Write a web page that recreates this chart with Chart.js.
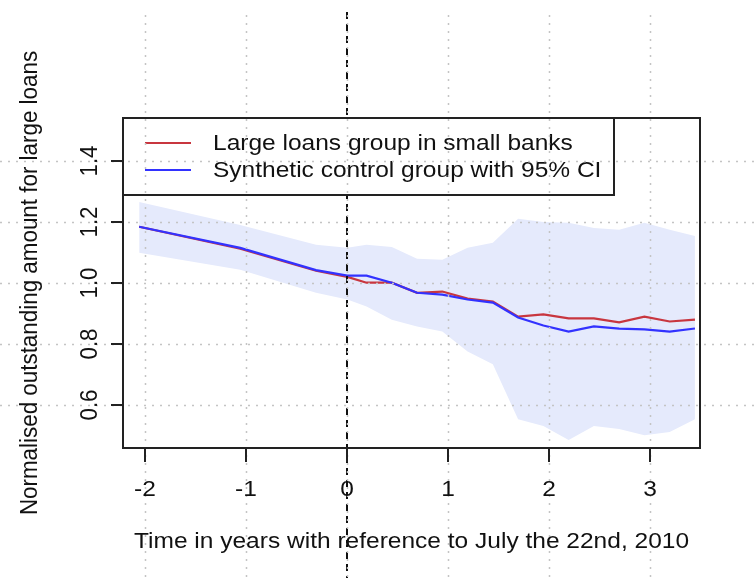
<!DOCTYPE html>
<html>
<head>
<meta charset="utf-8">
<script src="https://cdn.jsdelivr.net/npm/chart.js@4"></script>
<style>
  html, body { margin: 0; padding: 0; background: #fff; }
  canvas { display: block; }
</style>
</head>
<body>
<canvas id="loanChart" width="755" height="578"></canvas>
<script>
// time in years relative to 22 July 2010 (quarter ends)
const years = [-2.06, -1.06, -0.31, 0, 0.19, 0.44, 0.69, 0.94, 1.19, 1.44, 1.69, 1.94, 2.19, 2.44, 2.69, 2.94, 3.19, 3.44];

// large loans group in small banks
const treated = [1.184, 1.112, 1.040, 1.020, 1.001, 1.001, 0.968, 0.972, 0.949, 0.939, 0.890, 0.897, 0.884, 0.884, 0.871, 0.890, 0.874, 0.880];
// synthetic control
const synthetic = [1.184, 1.115, 1.042, 1.024, 1.024, 1.001, 0.968, 0.962, 0.946, 0.936, 0.887, 0.861, 0.841, 0.858, 0.851, 0.848, 0.841, 0.851];
// 95% CI
const ciUpper = [1.265, 1.190, 1.125, 1.115, 1.125, 1.118, 1.079, 1.076, 1.115, 1.132, 1.210, 1.200, 1.197, 1.180, 1.174, 1.197, 1.174, 1.154];
const ciLower = [1.099, 1.043, 0.968, 0.946, 0.923, 0.880, 0.858, 0.841, 0.776, 0.734, 0.554, 0.532, 0.486, 0.532, 0.522, 0.502, 0.512, 0.554];

const xTicks = [-2, -1, 0, 1, 2, 3];
const yTicks = [0.6, 0.8, 1.0, 1.2, 1.4];
const yTickLabels = ['0.6', '0.8', '1.0', '1.2', '1.4'];

const seriesNames = ['Large loans group in small banks', 'Synthetic control group with 95% CI'];
const redCol = '#c8363f';
const blueCol = '#3232ff';
const bandCol = '#e5eafc';
const font = '22.4px "Liberation Sans", Arial, sans-serif';
const stretch = 1.095; // the original figure is a bit wider than tall

const pts = ys => years.map((x, i) => ({ x: x, y: ys[i] }));

// text helper, horizontally stretched like the source picture
function txt(c, s, x, y, rot) {
  c.save();
  c.translate(x, y);
  c.scale(stretch, 1);
  if (rot) c.rotate(-Math.PI / 2);
  c.fillText(s, 0, 0);
  c.restore();
}

// R-style decorations: box, ticks, dotted grid, v-line, legend
const rDecor = {
  id: 'rDecor',
  afterDatasetsDraw(chart) {
    const c = chart.ctx, a = chart.chartArea;
    const sx = chart.scales.x, sy = chart.scales.y;
    c.save();

    // abline(v = 0)
    const x0 = Math.round(sx.getPixelForValue(0));
    c.strokeStyle = '#111';
    c.lineWidth = 2;
    c.setLineDash([7, 5]);
    c.beginPath();
    c.moveTo(x0, 12);
    c.lineTo(x0, chart.height);
    c.stroke();
    c.setLineDash([]);

    // legend
    const lx = a.left, ly = a.top, lw = 491, lh = 77;
    c.fillStyle = '#fff';
    c.fillRect(lx, ly, lw, lh);
    c.strokeStyle = '#222';
    c.lineWidth = 2;
    c.strokeRect(lx, ly, lw, lh);
    c.font = font;
    c.textBaseline = 'middle';
    c.textAlign = 'left';
    [redCol, blueCol].forEach((col, i) => {
      const yy = ly + 25 + i * 27;
      c.strokeStyle = col;
      c.lineWidth = 2;
      c.beginPath();
      c.moveTo(lx + 22, yy);
      c.lineTo(lx + 68, yy);
      c.stroke();
      c.fillStyle = '#111';
      txt(c, seriesNames[i], lx + 90, yy + 1);
    });

    // grid(), drawn across the whole figure
    c.strokeStyle = '#c4c4c4';
    c.lineWidth = 1.5;
    c.setLineDash([2, 6]);
    xTicks.forEach(v => {
      const px = Math.round(sx.getPixelForValue(v)) + 0.5;
      c.beginPath();
      c.moveTo(px, 15);
      c.lineTo(px, chart.height);
      c.stroke();
    });
    yTicks.forEach(v => {
      const py = Math.round(sy.getPixelForValue(v)) + 0.5;
      c.beginPath();
      c.moveTo(0, py);
      c.lineTo(chart.width, py);
      c.stroke();
    });
    c.setLineDash([]);

    // box
    c.strokeStyle = '#222';
    c.lineWidth = 2;
    c.strokeRect(a.left, a.top, a.right - a.left, a.bottom - a.top);

    // x axis
    c.fillStyle = '#111';
    c.textAlign = 'center';
    c.textBaseline = 'middle';
    xTicks.forEach(v => {
      const px = Math.round(sx.getPixelForValue(v));
      c.beginPath();
      c.moveTo(px, a.bottom);
      c.lineTo(px, a.bottom + 14);
      c.stroke();
      txt(c, v < 0 ? '-' + Math.abs(v) : String(v), px, a.bottom + 42);
    });
    txt(c, 'Time in years with reference to July the 22nd, 2010', (a.left + a.right) / 2, 542);

    // y axis
    yTicks.forEach((v, i) => {
      const py = Math.round(sy.getPixelForValue(v));
      c.beginPath();
      c.moveTo(a.left, py);
      c.lineTo(a.left - 12, py);
      c.stroke();
      txt(c, yTickLabels[i], 90, py, true);
    });
    txt(c, 'Normalised outstanding amount for large loans', 30, (a.top + a.bottom) / 2, true);

    c.restore();
  }
};

new Chart(document.getElementById('loanChart'), {
  type: 'line',
  data: {
    datasets: [
      // higher order = drawn earlier, so the band sits underneath
      { label: 'CI upper', data: pts(ciUpper), borderWidth: 0, pointRadius: 0, fill: '+1', backgroundColor: bandCol, order: 3 },
      { label: 'CI lower', data: pts(ciLower), borderWidth: 0, pointRadius: 0, fill: false, order: 3 },
      { label: seriesNames[0], data: pts(treated), borderColor: redCol, borderWidth: 2.2, pointRadius: 0, fill: false, tension: 0, order: 2 },
      { label: seriesNames[1], data: pts(synthetic), borderColor: blueCol, borderWidth: 2.2, pointRadius: 0, fill: false, tension: 0, order: 1 }
    ]
  },
  options: {
    responsive: false,
    animation: false,
    layout: { padding: { left: 123, top: 118, right: 55, bottom: 130 } },
    plugins: {
      legend: { display: false },
      tooltip: { enabled: false }
    },
    scales: {
      x: { type: 'linear', min: -2.22, max: 3.49, display: false },
      y: { min: 0.46, max: 1.54, display: false }
    }
  },
  plugins: [rDecor]
});
</script>
</body>
</html>
